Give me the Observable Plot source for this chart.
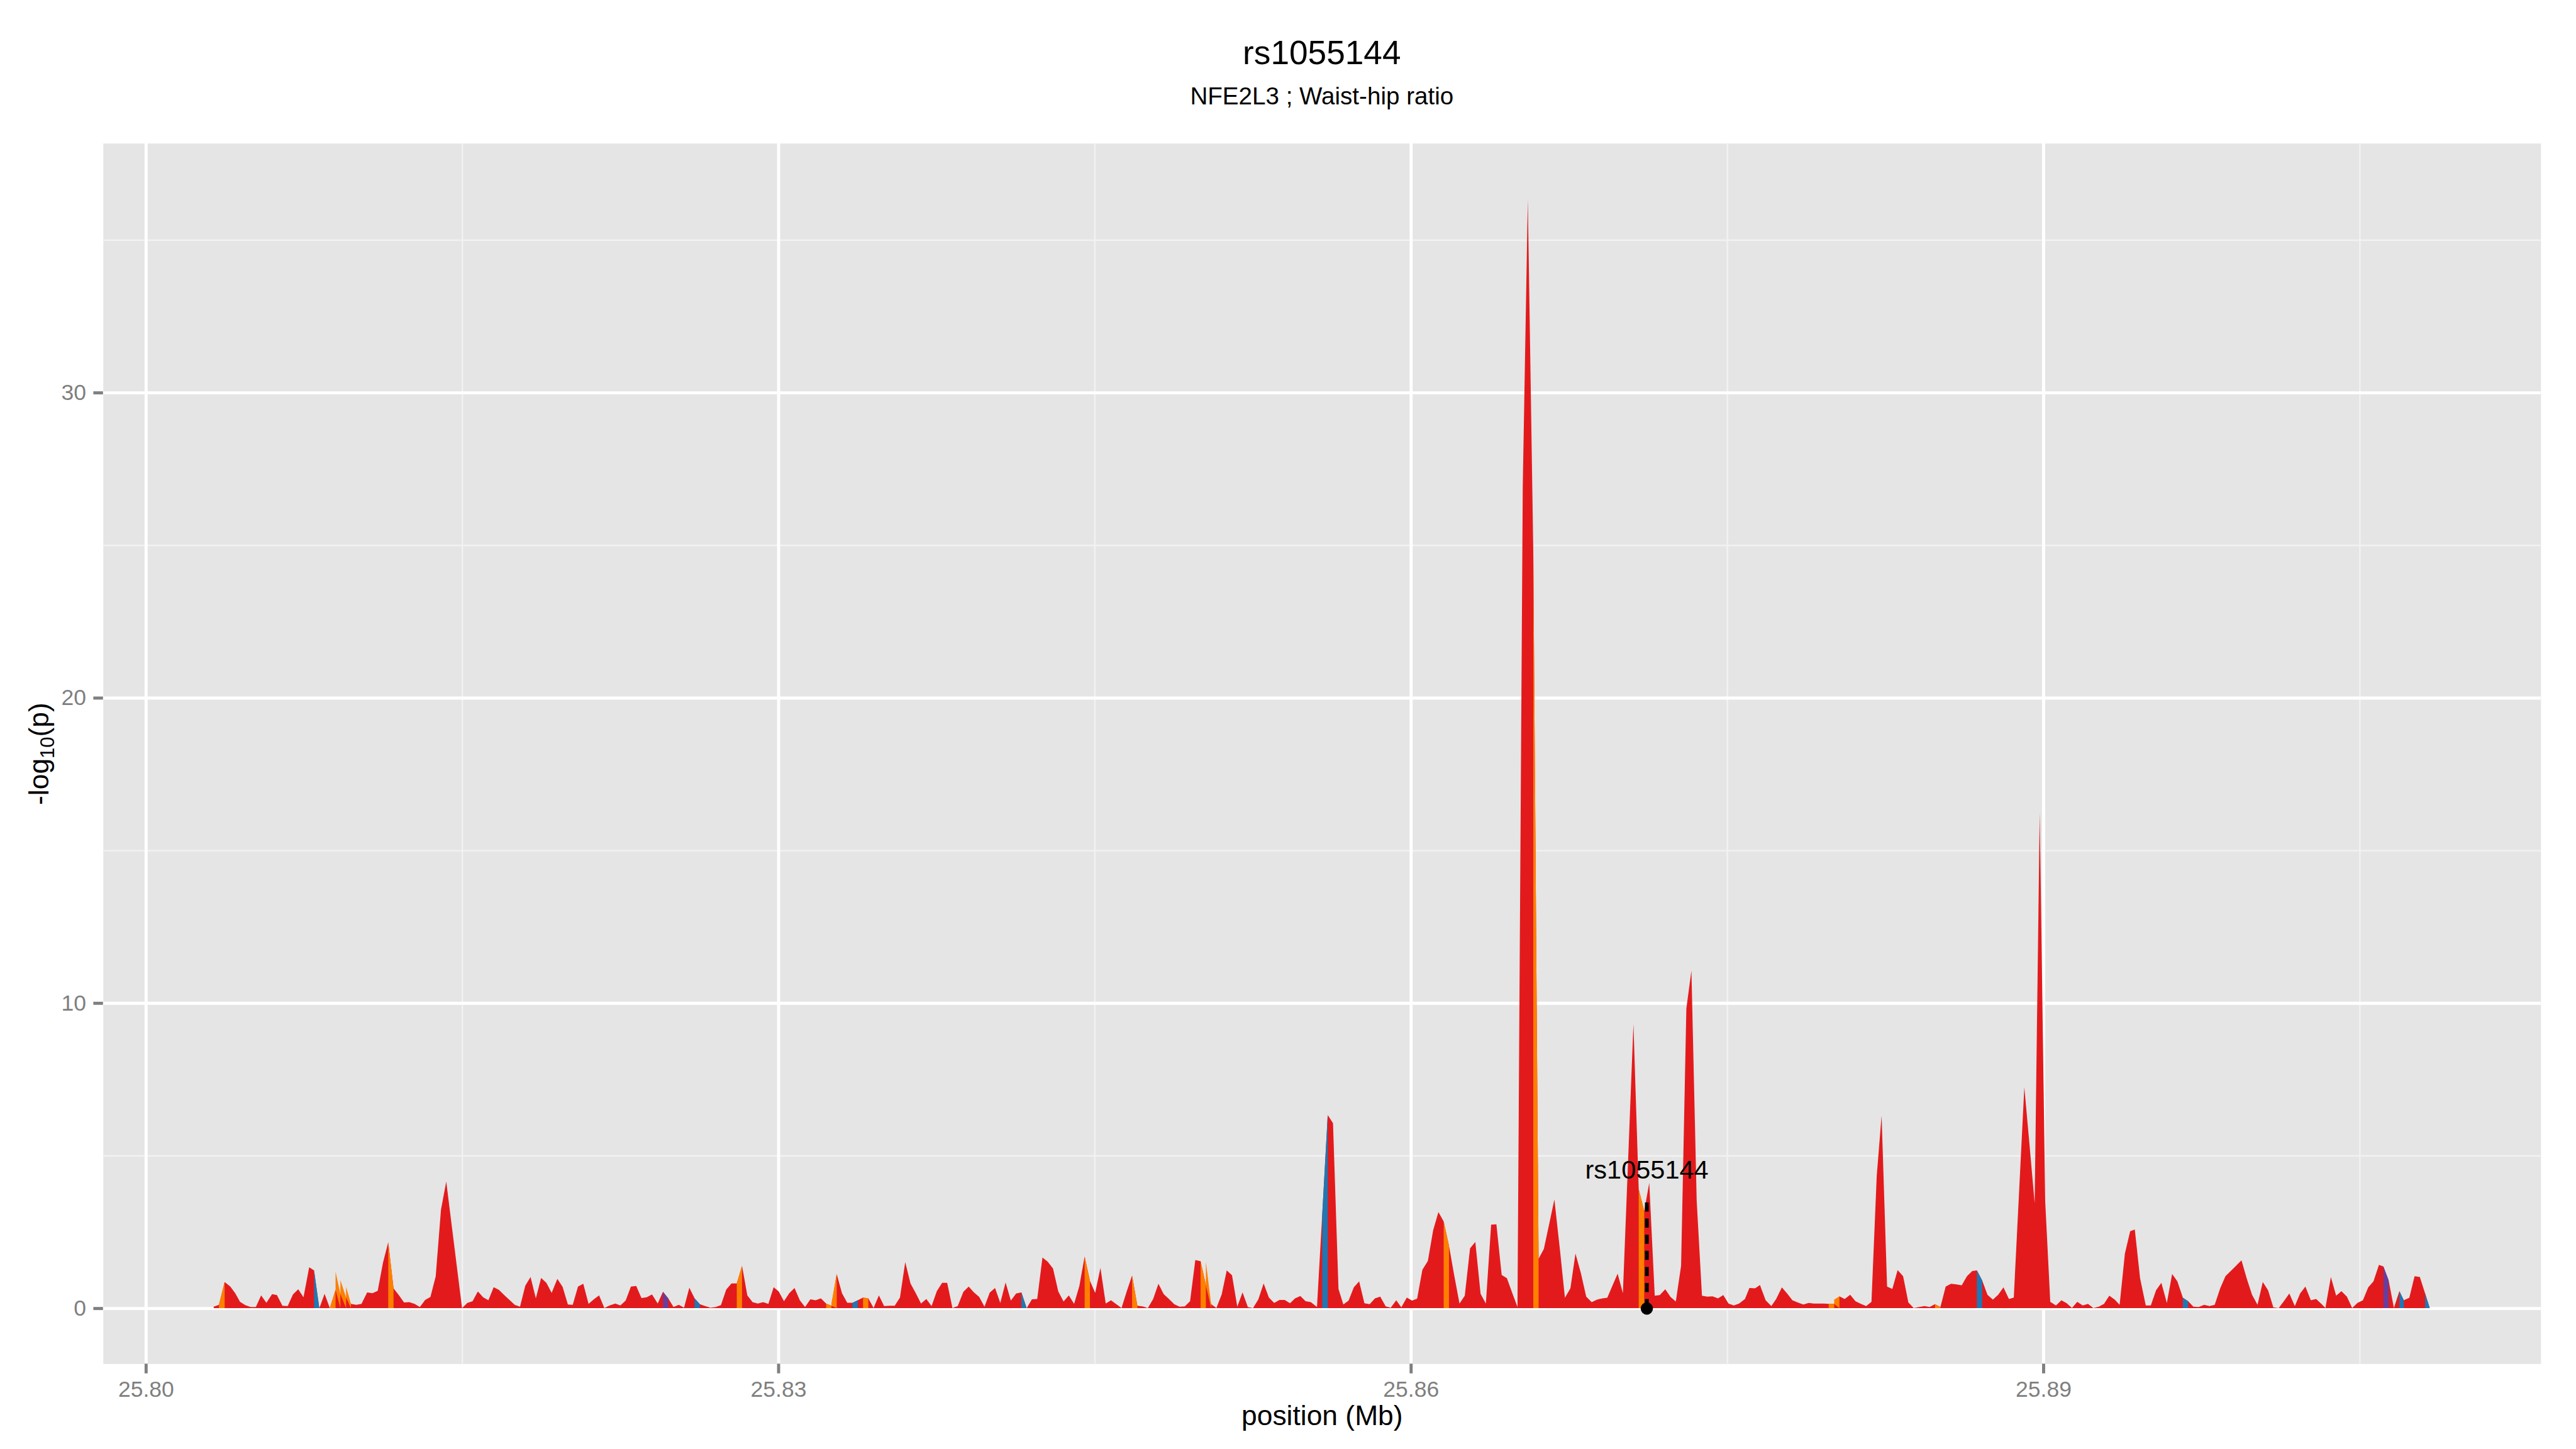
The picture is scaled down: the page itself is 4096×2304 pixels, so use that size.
<!DOCTYPE html>
<html><head><meta charset="utf-8">
<script src="https://cdn.jsdelivr.net/npm/d3@7"></script>
<script src="https://cdn.jsdelivr.net/npm/@observablehq/plot@0.6"></script>
<style>
html,body{margin:0;padding:0;background:#fff;}
#wrap{position:relative;width:4096px;height:2304px;overflow:hidden;font-family:"Liberation Sans",Arial,Helvetica,sans-serif;background:#fff;}
#head{position:relative;width:4096px;height:190px;}
.t{position:absolute;left:163.8px;width:3876px;text-align:center;line-height:1;white-space:nowrap;color:#000;}
#title{font-size:53.2px;top:57.4px;}
#subtitle{font-size:38.6px;top:133.6px;}
#chart svg{display:block;}
</style></head><body>
<div id="wrap">
<div id="head"><div class="t" id="title">rs1055144</div><div class="t" id="subtitle">NFE2L3 ; Waist-hip ratio</div></div>
<div id="chart"></div>
</div>
<script>
// ---- data: position (Mb) and -log10(p), read region by region ----
const posA = [25.80322,25.80347,25.80374,25.80401,25.80424,25.80447,25.80472,25.80497,25.80522,25.80547,
25.80572,25.80599,25.80622,25.80648,25.80673,25.80698,25.80723,25.80748,25.80775,25.80798,
25.80823,25.80848,25.80873,25.80900,25.80923,25.80950,25.80973,25.80998,25.81023,25.81050,
25.81075,25.81100,25.81125,25.81150,25.81175,25.81200,25.81225,25.81250,25.81275,25.81300,
25.81325,25.81350,25.81375,25.81400,25.81425,25.81500,25.81525,25.81550,25.81575,25.81600,
25.81625,25.81650,25.81675,25.81700,25.81725,25.81750,25.81775,25.81800,25.81825,25.81850,
25.81875,25.81900,25.81925,25.81952,25.81977,25.82002,25.82025,25.82050,25.82075,25.82100,
25.82125,25.82150,25.82175,25.82200,25.82227,25.82251,25.82276,25.82301,25.82326,25.82351,
25.82376,25.82401,25.82428,25.82453,25.82478,25.82503,25.82528,25.82553,25.82578,25.82603,
25.82628,25.82653,25.82678,25.82703,25.82728,25.82753,25.82778,25.82803,25.82828,25.82853,
25.82878,25.82903,25.82928,25.82953,25.82978];
const logpA = [0.05,0.11,0.86,0.71,0.49,0.21,0.10,0.04,0.04,0.42,
0.18,0.46,0.43,0.08,0.07,0.45,0.62,0.36,1.34,1.24,
0,0.47,0,0.60,0.46,0.35,0.14,0.11,0.14,0.52,
0.49,0.57,1.49,2.16,0.65,0.43,0.19,0.20,0.14,0.04,
0.27,0.37,1.04,3.22,4.15,0,0.17,0.23,0.55,0.36,
0.26,0.69,0.60,0.43,0.27,0.11,0.05,0.74,1.02,0.32,
0.99,0.83,0.50,0.96,0.70,0.12,0.11,0.71,0.80,0.14,
0.29,0.42,0.01,0.09,0.15,0.09,0.25,0.71,0.73,0.33,
0.36,0.45,0.15,0.54,0.32,0.04,0.11,0.02,0.67,0.32,
0.13,0.07,0.02,0.04,0.10,0.61,0.81,0.81,1.39,0.42,
0.20,0.15,0.20,0.14,0.69];

const posB = [25.83002,25.83027,25.83052,25.83077,25.83102,25.83127,25.83152,25.83177,25.83202,25.83227,
25.83252,25.83277,25.83302,25.83327,25.83352,25.83377,25.83402,25.83427,25.83452,25.83477,
25.83502,25.83527,25.83552,25.83577,25.83602,25.83627,25.83652,25.83677,25.83702,25.83727,
25.83752,25.83777,25.83801,25.83826,25.83851,25.83878,25.83903,25.83928,25.83953,25.83978,
25.84003,25.84028,25.84053,25.84078,25.84103,25.84128,25.84153,25.84178,25.84203,25.84228,
25.84253,25.84278,25.84303,25.84328,25.84353,25.84378,25.84403,25.84428,25.84453,25.84478,
25.84503,25.84528,25.84553,25.84578,25.84603,25.84628,25.84653,25.84678,25.84703,25.84728,
25.84753,25.84778,25.84803,25.84828,25.84853,25.84878,25.84903,25.84928,25.84953,25.84978,
25.85003,25.85028,25.85053,25.85078,25.85103,25.85127,25.85152,25.85177,25.85202,25.85227,
25.85252,25.85277,25.85302,25.85327,25.85352,25.85377,25.85402,25.85427,25.85451,25.85476,
25.85501,25.85526];
const logpB = [0.55,0.23,0.49,0.66,0.26,0.04,0.29,0.26,0.32,0.15,
0.08,1.12,0.49,0.18,0.18,0.26,0.35,0.32,0.01,0.42,
0.07,0.08,0.08,0.35,1.51,0.81,0.49,0.15,0.30,0.07,
0.56,0.83,0.83,0.01,0.07,0.54,0.71,0.52,0.37,0.05,
0.51,0.66,0.17,0.84,0.25,0.48,0.52,0,0.29,0.30,
1.66,1.52,1.30,0.55,0.22,0.42,0.14,0.73,1.69,0.90,
0.50,1.32,0.15,0.26,0.13,0.01,0.56,1.07,0.08,0.06,
0.01,0.30,0.80,0.46,0.30,0.13,0.05,0.06,0.23,1.58,
1.54,0.76,0.13,0.01,0.45,1.24,1.08,0.05,0.52,0.04,
0.01,0.29,0.81,0.35,0.17,0.27,0.27,0.16,0.32,0.40,
0.23,0.20];

const posC = [25.85555,25.85580,25.85606,25.85631,25.85657,25.85680,25.85705,25.85730,25.85755,25.85780,
25.85805,25.85830,25.85855,25.85881,25.85905,25.85931,25.85955,25.85981,25.86006,25.86030,
25.86055,25.86081,25.86106,25.86131,25.86156,25.86181,25.86205,25.86231,25.86256,25.86281,
25.86306,25.86331,25.86356,25.86381,25.86406,25.86431,25.86456,25.86481,25.86506,
25.86531,25.86555,25.86581,25.86606,25.86631,25.86657,25.86681,25.86707,25.86731,25.86757,
25.86781,25.86807];
const logpC = [0.04,3.08,6.33,6.06,0.63,0.12,0.25,0.69,0.88,0.16,
0.13,0.32,0.38,0.06,0.02,0.26,0.03,0.35,0.25,0.31,
1.26,1.55,2.55,3.15,2.84,2.05,1.11,0.15,0.41,1.96,
2.17,0.47,0.15,2.74,2.75,1.09,0.98,0.50,0.04,
26.9,36.32,24.75,1.62,1.94,2.78,3.56,1.94,0.34,0.65,
1.79,1.14];

const posD = [25.86832,25.86858,25.86883,25.86909,25.86932,25.86957,25.86981,25.87006,25.87056,25.87081,
25.87107,25.87131,25.87157,25.87181,25.87207,25.87232,25.87257,25.87282,25.87307,25.87331,
25.87356,25.87381,25.87406,25.87431,25.87457,25.87482,25.87507,25.87532,25.87557,
25.87585,25.87606,25.87633,25.87656,25.87683,25.87710,25.87733,25.87760,25.87785,25.87810,
25.87835,25.87862,25.87887,25.87912,25.87936,25.87960];
const logpD = [0.38,0.20,0.28,0.32,0.34,0.75,1.13,0.49,9.31,3.90,
3.18,4.11,0.41,0.43,0.62,0.37,0.22,1.39,9.82,11.06,
3.52,0.41,0.38,0.39,0.32,0.43,0.15,0.09,0.15,
0.30,0.66,0.65,0.76,0.26,0.07,0.30,0.68,0.48,0.26,
0.19,0.12,0.17,0.15,0.15,0.15];

const posE = [25.87982,25.88008,25.88033,25.88058,25.88084,25.88109,25.88135,25.88160,25.88185,25.88210,
25.88233,25.88259,25.88284,25.88309,25.88335,25.88360,25.88385,25.88411,25.88436,25.88461,
25.88486,25.88512,25.88537,25.88562,25.88588,25.88613,25.88638,25.88663,25.88685,25.88710,
25.88735,25.88761,25.88786,25.88811,25.88837,25.88860,
25.88910,25.88934,25.88959,25.88983,25.89009,25.89033];
const logpE = [0.14,0.14,0.39,0.30,0.44,0.23,0.14,0.07,0.21,4.34,
6.31,0.71,0.63,1.25,1.05,0.19,0.01,0.04,0.07,0.04,
0.13,0.04,0.71,0.80,0.78,0.75,1.05,1.22,1.24,0.91,
0.44,0.28,0.44,0.68,0.30,0.35,
7.24,5.40,3.44,16.24,3.50,0.21];

const posF = [25.89060,25.89086,25.89111,25.89136,25.89161,25.89187,25.89212,25.89237,25.89263,25.89288,
25.89313,25.89339,25.89362,25.89387,25.89412,25.89434,25.89459,25.89486,25.89510,25.89535,
25.89560,25.89586,25.89611,25.89636,25.89662,25.89687,25.89712,25.89737,25.89763,25.89788,
25.89813,25.89839,25.89864,25.89889,25.89914,25.89940,25.89965,25.89990,25.90016,25.90041,
25.90066,25.90091,25.90117,25.90142,25.90167,25.90193,25.90218,25.90243,25.90269,25.90294,
25.90319,25.90338,25.90364,25.90389,25.90414,25.90440,25.90465,25.90490,25.90516,25.90541,
25.90566,25.90592,25.90613,25.90638,25.90663,25.90689,25.90710,25.90736,25.90761,25.90786,
25.90811,25.90833];
const logpF = [0.09,0.26,0.16,0.01,0.21,0.09,0.14,0.01,0.05,0.14,
0.41,0.28,0.11,1.79,2.52,2.58,0.98,0.09,0.09,0.59,
0.83,0.17,1.12,0.88,0.34,0.23,0.05,0.04,0.11,0.07,
0.11,0.65,1.05,1.22,1.39,1.57,0.97,0.44,0.11,0.86,
0.59,0.03,0.01,0.24,0.48,0.07,0.48,0.71,0.26,0.30,
0.14,0.01,1.02,0.41,0.56,0.38,0.01,0.17,0.26,0.68,
0.88,1.42,1.37,0.91,0.01,0.56,0.26,0.34,1.05,1.02,
0.48,0];

// intervals (start position) that belong to another LD class than the base one
const ldClass2From = [25.80347,25.80873,25.80900,25.80923,25.80950,25.81150,25.82803,25.83227,25.83252,25.83402,
  25.84453,25.84678,25.85003,25.85028,25.86156,25.86581,25.87081,25.87982,25.88008,25.88486];
const ldClass3From = [25.80798,25.82603,25.83352,25.84153,25.85580,25.88685,25.89662,25.90689,25.90811];
const ldClass4From = [25.82453,25.90613];

const ldClasses = ["LD class 1","LD class 2","LD class 3","LD class 4"];
const ldColours = ["#E31A1C","#FF7F00","#1F78B4","#6A3D9A"];

// highlighted SNP
const snpName = ["rs1055144"];
const snpPos = [25.87118];
const snpLogP = [3.62];
const snpLabelAt = [4.25];

// axis ticks
const xMajor = [25.80, 25.83, 25.86, 25.89];
const xMinor = [25.815, 25.845, 25.875, 25.905];
const yMajor = [0, 10, 20, 30];
const yMinor = [5, 15, 25, 35];

// ---- build tables ----
const positions = [].concat(posA, posB, posC, posD, posE, posF);
const logp = [].concat(logpA, logpB, logpC, logpD, logpE, logpF);
if (positions.length !== logp.length) console.error("length mismatch", positions.length, logp.length);
const points = positions.map((p, i) => ({pos: p, p: logp[i]}));

const segs = [];
[[ldClasses[1], ldClass2From], [ldClasses[2], ldClass3From], [ldClasses[3], ldClass4From]].forEach(([cls, starts]) => {
  starts.forEach(s => {
    const i = positions.findIndex(p => Math.abs(p - s) < 1e-7);
    if (i < 0 || i + 1 >= positions.length) { console.error("missing", s); return; }
    segs.push({pos: positions[i], p: logp[i], seg: cls + i, ld: cls});
    segs.push({pos: positions[i + 1], p: logp[i + 1], seg: cls + i, ld: cls});
  });
});
const snp = snpName.map((n, i) => ({name: n, pos: snpPos[i], p: snpLogP[i], lab: snpLabelAt[i]}));

// ---- layout (reference px * 0.853) ----
const S = 0.853;
const W = 4096, H = 2304 - 190;
const mL = 192 * S, mR = W - 4736 * S, mT = 267 * S - 190, mB = H - (2542 * S - 190);
const grey50 = "#7F7F7F";

const chart = Plot.plot({
  width: W, height: H,
  marginLeft: mL, marginRight: mR, marginTop: mT, marginBottom: mB,
  style: {fontFamily: "'Liberation Sans', Arial, Helvetica, sans-serif", background: "white", overflow: "visible"},
  x: {domain: [25.79797, 25.91359]},
  y: {domain: [-1.8175, 38.1675]},
  color: {type: "ordinal", domain: ldClasses, range: ldColours},
  marks: [
    Plot.frame({fill: "#E5E5E5", stroke: "none"}),
    Plot.gridY(yMinor, {stroke: "#F2F2F2", strokeOpacity: 1, strokeWidth: 2.4}),
    Plot.gridX(xMinor, {stroke: "#F2F2F2", strokeOpacity: 1, strokeWidth: 2.4}),
    Plot.gridY(yMajor, {stroke: "#FFFFFF", strokeOpacity: 1, strokeWidth: 4.9}),
    Plot.gridX(xMajor, {stroke: "#FFFFFF", strokeOpacity: 1, strokeWidth: 4.9}),
    Plot.areaY(points, {x: "pos", y: "p", fill: ldColours[0], curve: "linear"}),
    Plot.areaY(segs, {x: "pos", y: "p", z: "seg", fill: "ld", curve: "linear"}),
    Plot.ruleX(snp, {x: "pos", y1: 0, y2: "p", stroke: "black", strokeWidth: 6, strokeDasharray: "14.5,11.1"}),
    Plot.dot(snp, {x: "pos", y: 0, r: 9.8, fill: "black"}),
    Plot.text(snp, {x: "pos", y: "lab", text: "name", fontSize: 41.5, fill: "black", lineAnchor: "bottom", textAnchor: "middle"}),
    Plot.axisX(xMajor, {tickSize: 15.4, tickPadding: 11.1, fontSize: 35.5, color: grey50, strokeWidth: 4.9, tickFormat: d3.format(".2f"), label: null}),
    Plot.axisY(yMajor, {tickSize: 15.4, tickPadding: 11.9, fontSize: 35.5, color: grey50, strokeWidth: 4.9, tickFormat: d3.format("d"), label: null}),
    Plot.text(["position (Mb)"], {frameAnchor: "bottom", dy: 97.2, lineAnchor: "bottom", textAnchor: "middle", fontSize: 44.4, fill: "black"}),
    Plot.text(["-log10(p)"], {frameAnchor: "left", rotate: -90, dx: -87, lineAnchor: "bottom", textAnchor: "middle", fontSize: 44.4, fill: "black"})
  ]
});
document.getElementById("chart").appendChild(chart);

// subscript for the y-axis title
const NS = "http://www.w3.org/2000/svg";
chart.querySelectorAll("text").forEach(t => {
  if (t.textContent === "-log10(p)") {
    while (t.firstChild) t.removeChild(t.firstChild);
    const a = document.createElementNS(NS, "tspan"); a.textContent = "-log";
    const b = document.createElementNS(NS, "tspan"); b.textContent = "10";
    b.setAttribute("font-size", "31px"); b.setAttribute("dy", "9");
    const c = document.createElementNS(NS, "tspan"); c.textContent = "(p)"; c.setAttribute("dy", "-9");
    t.appendChild(a); t.appendChild(b); t.appendChild(c);
  }
});
</script>
</body></html>
